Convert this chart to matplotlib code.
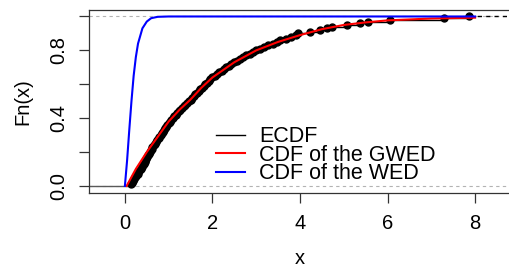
import matplotlib
matplotlib.use("Agg")
import matplotlib.pyplot as plt
from matplotlib.lines import Line2D
import numpy as np

# sample
sample = [0.13, 0.16, 0.19, 0.21, 0.24, 0.26, 0.29, 0.31, 0.33, 0.36,
          0.38, 0.40, 0.43, 0.45, 0.47, 0.49, 0.50, 0.52, 0.55, 0.57,
          0.59, 0.61, 0.63, 0.66, 0.69, 0.71, 0.74, 0.77, 0.79, 0.82,
          0.85, 0.87, 0.90, 0.92, 0.95, 0.97, 1.00, 1.02, 1.05, 1.09,
          1.12, 1.16, 1.20, 1.24, 1.27, 1.31, 1.35, 1.38, 1.42, 1.46,
          1.50, 1.54, 1.57, 1.61, 1.65, 1.69, 1.72, 1.76, 1.80, 1.84,
          1.87, 1.91, 1.95, 1.99, 2.05, 2.10, 2.16, 2.21, 2.27, 2.32,
          2.38, 2.43, 2.49, 2.56, 2.63, 2.70, 2.77, 2.85, 2.92, 2.99,
          3.08, 3.18, 3.28, 3.38, 3.48, 3.55, 3.68, 3.80, 3.90, 3.96,
          4.22, 4.45, 4.62, 4.72, 5.07, 5.37, 5.55, 6.06, 7.28, 7.87]

# fitted CDF curves
gwed_x = [0.04, 0.25, 0.5, 0.75, 1.0, 1.25, 1.5, 1.75, 2.0, 2.5, 3.0,
          3.5, 4.0, 4.5, 5.0, 5.5, 6.0, 7.0, 8.0]
gwed_F = [0.0, 0.10, 0.20, 0.29, 0.38, 0.45, 0.51, 0.58, 0.64, 0.73, 0.80,
          0.85, 0.89, 0.925, 0.95, 0.965, 0.977, 0.988, 0.993]
wed_x = [0.0, 0.05, 0.1, 0.15, 0.2, 0.25, 0.3, 0.4, 0.5, 0.6, 0.75, 1.0, 8.0]
wed_F = [0.0, 0.15, 0.33, 0.50, 0.65, 0.76, 0.84, 0.93, 0.97, 0.99, 0.998, 1.0, 1.0]

plt.rcParams['font.family'] = ['Liberation Sans', 'DejaVu Sans']

fig = plt.figure(figsize=(5.09, 2.71), dpi=100)
ax = fig.add_axes([89/509, 1 - 192.7/271, 422/509, 183/271])

xlo, xhi = -0.82, 8.82
ax.set_xlim(xlo, xhi)
ax.set_ylim(-0.04, 1.04)

ax.axhline(0, color='0.7', ls=(0, (3, 3)), lw=0.8)
ax.axhline(1, color='0.7', ls=(0, (3, 3)), lw=0.8)

xs = np.sort(np.array(sample))
Fn = np.arange(1, len(xs) + 1) / len(xs)
ax.hlines(Fn[:-1], xs[:-1], xs[1:], color='black', lw=1)
ax.hlines(0, xlo, xs[0], color='0.35', lw=1)
ax.hlines(1, xs[-1], xhi, color='black', lw=1, linestyles=(0, (3, 3)))
ax.plot(xs, Fn, 'o', color='black', ms=5, label='ECDF')

ax.plot(gwed_x, gwed_F, color='red', lw=1.5, label='CDF of the GWED')
ax.plot(wed_x, wed_F, color='blue', lw=1.5, label='CDF of the WED')

h, l = ax.get_legend_handles_labels()
h[0] = Line2D([], [], color='black', lw=1)
ax.legend(h, l, loc='lower left', bbox_to_anchor=(0.275, -0.012), frameon=False,
          fontsize=15.5, handlelength=1.35, handletextpad=0.65, labelspacing=-0.12,
          borderpad=0)

ax.set_xticks([0, 2, 4, 6, 8])
ax.set_yticks([0, 0.2, 0.4, 0.6, 0.8, 1.0])
ax.set_yticklabels(['0.0', '', '0.4', '', '0.8', ''], rotation=90, va='center')
ax.tick_params(labelsize=14.5, length=7, width=0.9, color='0.2', pad=8)
for s in ax.spines.values():
    s.set_color('0.2')
    s.set_linewidth(0.9)

ax.set_xlabel('x', fontsize=14.5, labelpad=12)
ax.set_ylabel('Fn(x)', fontsize=14.5, labelpad=12)

fig.savefig('out.png', dpi=100)
